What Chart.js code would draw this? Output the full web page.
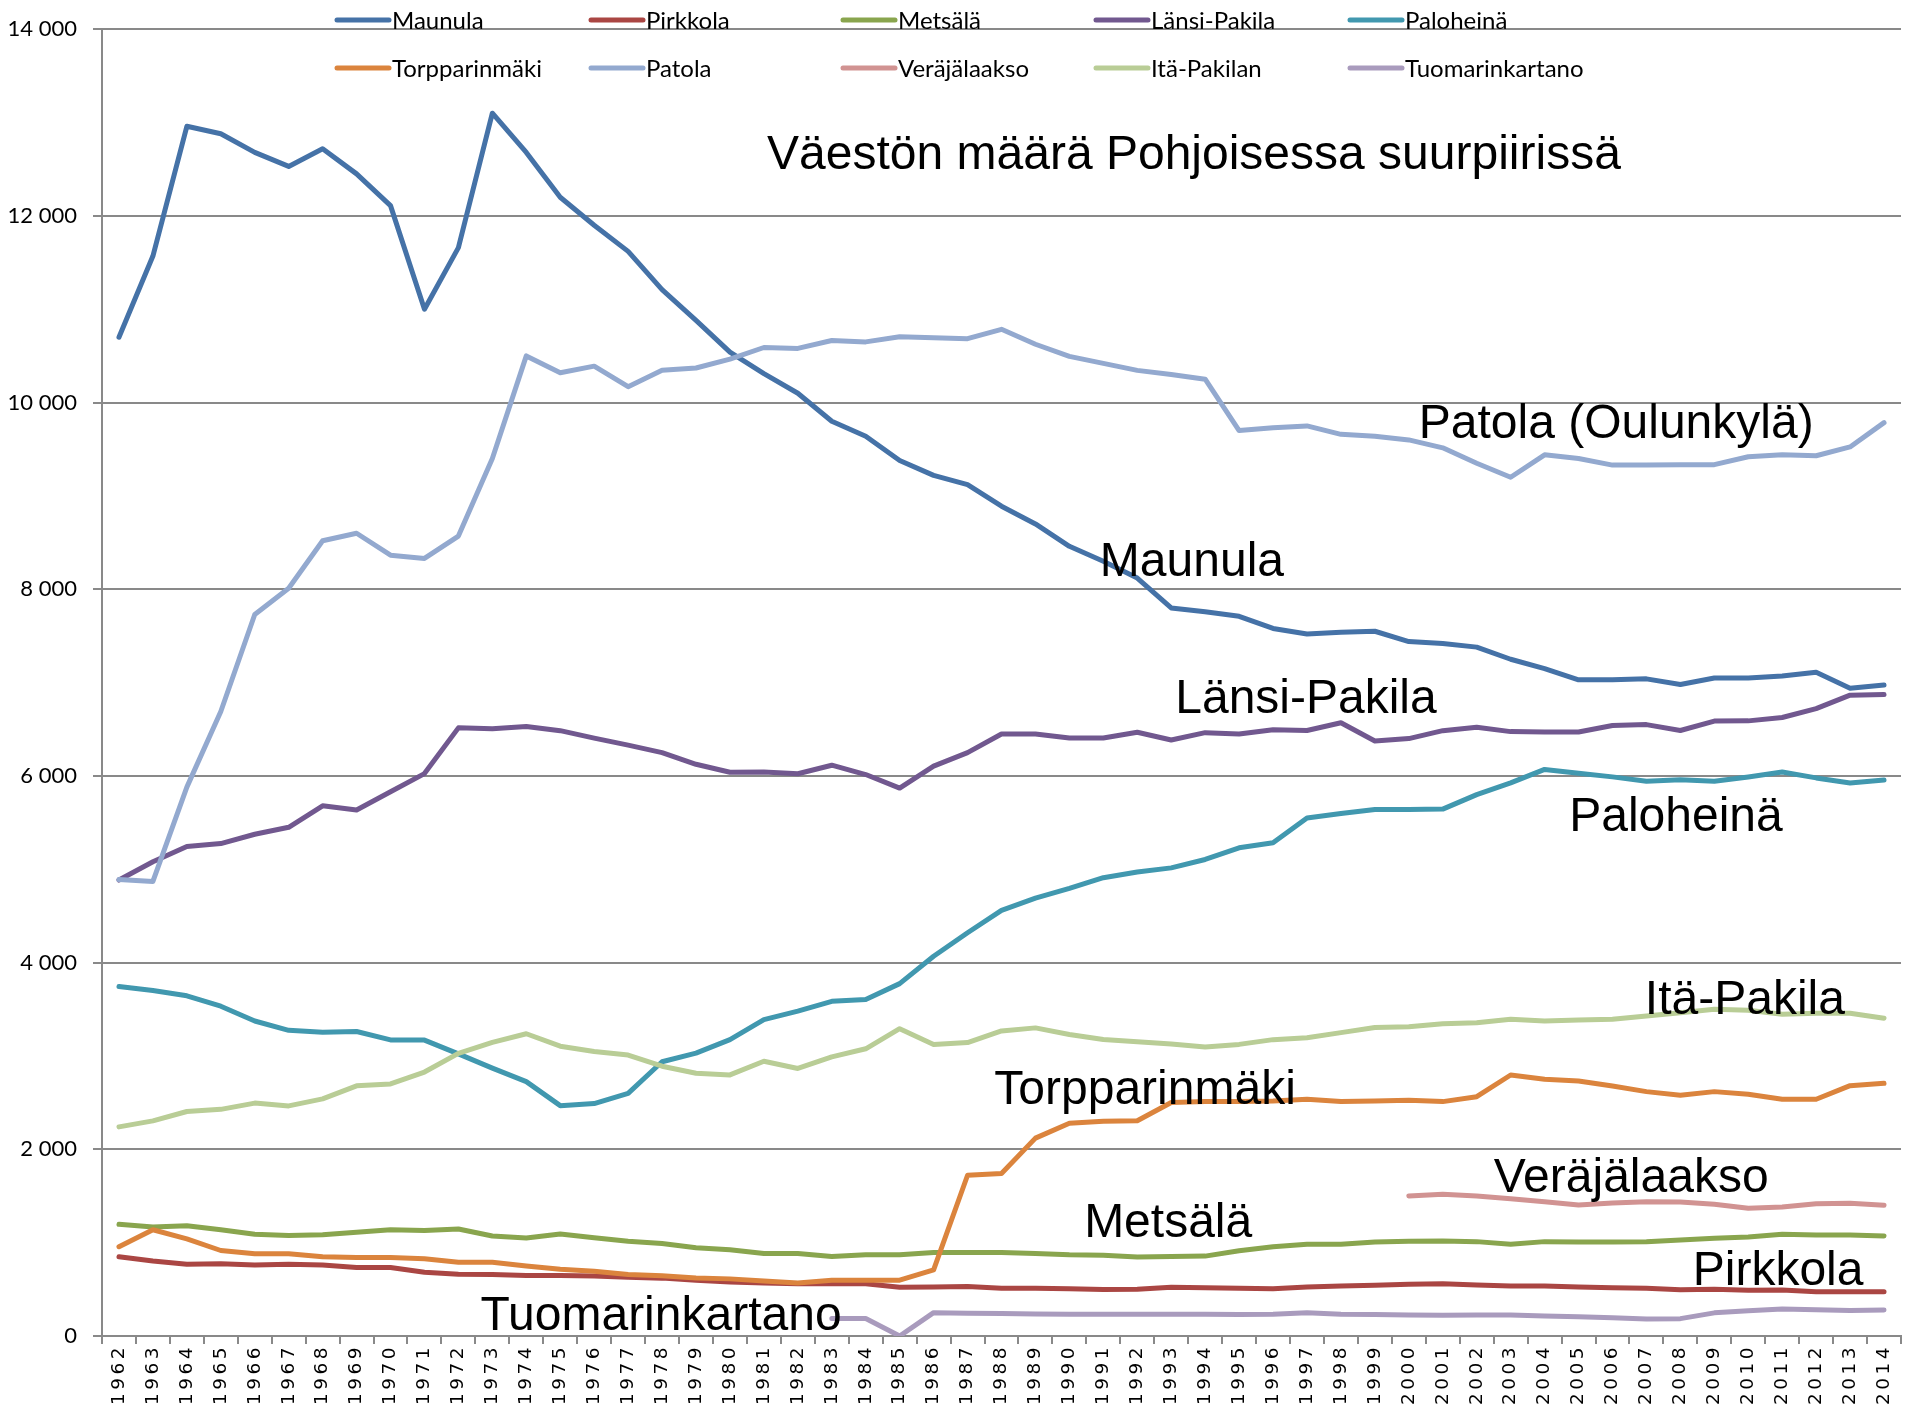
<!DOCTYPE html>
<html>
<head>
<meta charset="utf-8">
<script src="https://cdn.jsdelivr.net/npm/chart.js@4.4.1/dist/chart.umd.min.js"></script>
<style>
  html, body { margin: 0; padding: 0; background: #ffffff; }
  #wrap { width: 1911px; height: 1411px; }
</style>
</head>
<body>
<div id="wrap"><canvas id="c" width="1911" height="1411"></canvas></div>
<script>
// ---------- DATA ----------
const years = ['1962','1963','1964','1965','1966','1967','1968','1969','1970','1971',
  '1972','1973','1974','1975','1976','1977','1978','1979','1980','1981',
  '1982','1983','1984','1985','1986','1987','1988','1989','1990','1991',
  '1992','1993','1994','1995','1996','1997','1998','1999','2000','2001',
  '2002','2003','2004','2005','2006','2007','2008','2009','2010','2011',
  '2012','2013','2014'];

const maunula = [10700,11570,12960,12880,12680,12530,12720,12450,12110,11000,
  11660,13100,12680,12200,11900,11620,11210,10880,10540,10310,
  10100,9800,9640,9380,9220,9120,8890,8700,8460,8300,
  8120,7800,7760,7710,7580,7520,7540,7550,7440,7420,
  7380,7250,7150,7030,7030,7040,6980,7050,7050,7070,
  7110,6940,6975];

const pirkkola = [849,804,769,773,760,769,760,733,733,684,
  662,658,649,649,644,630,620,598,579,569,
  560,560,560,522,526,531,512,512,507,498,
  502,522,517,512,505,525,536,543,554,561,
  546,536,536,525,518,511,496,500,489,493,
  475,475,475];

const metsala = [1196,1169,1182,1138,1089,1076,1084,1111,1138,1129,
  1147,1071,1049,1093,1053,1015,990,945,923,885,
  885,852,871,871,895,895,895,885,871,866,
  847,852,856,914,957,982,982,1007,1014,1018,
  1011,982,1011,1007,1007,1011,1029,1046,1061,1089,
  1082,1082,1071];

const lansiPakila = [4885,5080,5245,5275,5375,5450,5680,5635,5830,6025,
  6515,6505,6530,6485,6405,6330,6250,6125,6040,6043,
  6024,6115,6015,5870,6105,6250,6450,6450,6407,6407,
  6468,6385,6464,6450,6495,6487,6570,6375,6400,6485,
  6522,6475,6470,6470,6540,6550,6487,6588,6590,6626,
  6722,6865,6872];

const paloheina = [3745,3702,3645,3533,3375,3275,3255,3262,3172,3170,
  3022,2870,2725,2468,2490,2600,2938,3030,3175,3390,
  3480,3585,3605,3775,4068,4320,4560,4690,4795,4910,
  4970,5015,5105,5230,5285,5550,5598,5640,5640,5645,
  5800,5925,6070,6030,5990,5943,5960,5943,5989,6043,
  5979,5925,5957];

const torpparinmaki = [956,1138,1040,916,880,880,849,840,840,827,
  791,791,751,716,693,660,645,622,612,589,
  569,598,598,598,708,1722,1740,2120,2280,2301,
  2306,2502,2512,2512,2518,2536,2511,2518,2525,2511,
  2564,2796,2750,2732,2679,2618,2579,2618,2589,2536,
  2536,2682,2707];

const patola = [4890,4870,5880,6690,7730,8010,8520,8600,8365,8330,
  8570,9400,10500,10320,10390,10170,10345,10370,10465,10590,
  10580,10665,10650,10705,10695,10685,10785,10625,10495,10420,
  10345,10300,10250,9700,9730,9750,9660,9640,9600,9515,
  9350,9200,9440,9400,9330,9330,9335,9335,9420,9440,
  9430,9525,9785];

const verajalaakso = [null,null,null,null,null,null,null,null,null,null,
  null,null,null,null,null,null,null,null,null,null,
  null,null,null,null,null,null,null,null,null,null,
  null,null,null,null,null,null,null,null,1500,1518,
  1500,1471,1439,1404,1425,1439,1436,1411,1368,1382,
  1418,1421,1400];

const itaPakila = [2240,2305,2405,2428,2495,2465,2540,2680,2700,2828,
  3028,3145,3238,3105,3048,3010,2890,2815,2797,2943,
  2866,2990,3077,3292,3124,3144,3268,3301,3230,3177,
  3153,3129,3096,3124,3175,3196,3250,3304,3314,3346,
  3357,3393,3375,3386,3393,3429,3464,3500,3489,3446,
  3457,3457,3404];

const tuomarinkartano = [null,null,null,null,null,null,null,null,null,null,
  null,null,null,null,null,null,null,null,null,null,
  null,188,188,0,250,245,240,236,234,234,
  232,232,232,230,232,248,232,230,226,221,
  225,225,214,207,196,182,186,248,270,288,
  280,273,279];

const seriesNames = ['Maunula','Pirkkola','Metsälä','Länsi-Pakila','Paloheinä',
  'Torpparinmäki','Patola','Veräjälaakso','Itä-Pakilan','Tuomarinkartano'];
const seriesValues = [maunula, pirkkola, metsala, lansiPakila, paloheina,
  torpparinmaki, patola, verajalaakso, itaPakila, tuomarinkartano];

const yTicks = [0, 2000, 4000, 6000, 8000, 10000, 12000, 14000];

// annotation texts (positions given in data space: category index, value)
const noteTexts = ['Väestön määrä Pohjoisessa suurpiirissä','Patola (Oulunkylä)','Maunula',
  'Länsi-Pakila','Paloheinä','Itä-Pakila','Torpparinmäki','Veräjälaakso','Metsälä',
  'Pirkkola','Tuomarinkartano'];

// ---------- STYLE ----------
const colors = ['#4572A7','#AA4643','#89A54E','#71588F','#4198AF',
  '#DB843D','#93A9CF','#D19392','#B9CD96','#A99BBD'];
const notePos = [[31.67,12500],[44.11,9623],[31.61,8137],[34.97,6672],[45.87,5409],
  [47.9,3452],[30.23,2490],[44.55,1538],[30.91,1057],[48.88,543],[15.97,62]];
const gridColor = '#898989';

const datasets = seriesNames.map((name, i) => ({
  label: name,
  data: seriesValues[i],
  borderColor: colors[i],
  backgroundColor: colors[i],
  borderWidth: 5,
  pointRadius: 0,
  pointHoverRadius: 0,
  tension: 0,
  fill: false,
  spanGaps: false,
  borderCapStyle: 'round',
  borderJoinStyle: 'round',
  order: 10 - i
}));

// x tick labels are drawn after the datasets (ticks.z = 1); widen their tracking
const spacingPlugin = {
  id: 'xLabelSpacing',
  afterDatasetsDraw(chart) { chart.ctx.letterSpacing = '3.5px'; },
  afterDraw(chart) { chart.ctx.letterSpacing = '0px'; }
};

const legendPlugin = {
  id: 'customLegend',
  afterDraw(chart) {
    const ctx = chart.ctx;
    const colX = [335, 589, 841, 1094, 1348];
    const rowY = [20, 68];
    ctx.save();
    ctx.letterSpacing = '0px';
    ctx.font = '24px Lato';
    ctx.textBaseline = 'alphabetic';
    ctx.textAlign = 'left';
    chart.data.datasets.forEach((ds, i) => {
      const x = colX[i % 5];
      const y = rowY[Math.floor(i / 5)];
      ctx.strokeStyle = ds.borderColor;
      ctx.lineWidth = 5;
      ctx.lineCap = 'round';
      ctx.beginPath();
      ctx.moveTo(x + 2, y);
      ctx.lineTo(x + 54, y);
      ctx.stroke();
      ctx.fillStyle = '#000000';
      ctx.fillText(ds.label, x + 57, y + 8.5);
    });
    ctx.restore();
  }
};

const notesPlugin = {
  id: 'notes',
  afterDraw(chart) {
    const ctx = chart.ctx;
    const xs = chart.scales.x, ys = chart.scales.y;
    ctx.save();
    ctx.letterSpacing = '0px';
    ctx.font = '48px "Liberation Sans", Arial, sans-serif';
    ctx.fillStyle = '#000000';
    ctx.textAlign = 'center';
    ctx.textBaseline = 'alphabetic';
    noteTexts.forEach((t, i) => {
      const x = xs.getPixelForValue(notePos[i][0]);
      const y = ys.getPixelForValue(notePos[i][1]);
      ctx.fillText(t, x, y);
    });
    ctx.restore();
  }
};

new Chart(document.getElementById('c'), {
  type: 'line',
  data: { labels: years, datasets },
  options: {
    responsive: false,
    animation: false,
    devicePixelRatio: 1,
    layout: { padding: { top: 27, right: 10, left: 0, bottom: 0 } },
    plugins: {
      legend: { display: false },
      title: { display: false },
      tooltip: { enabled: false }
    },
    scales: {
      x: {
        type: 'category',
        offset: true,
        grid: {
          offset: true,
          drawOnChartArea: false,
          drawTicks: true,
          tickLength: 8,
          color: gridColor,
          lineWidth: 2
        },
        border: { color: gridColor, width: 2 },
        ticks: {
          z: 1,
          autoSkip: false,
          maxRotation: 90,
          minRotation: 90,
          padding: 0,
          color: '#000000',
          font: { family: '"DejaVu Sans"', size: 18.5 }
        },
        afterFit(scale) { scale.height = 75; }
      },
      y: {
        min: 0,
        max: 14000,
        afterBuildTicks(scale) { scale.ticks = yTicks.map(v => ({ value: v })); },
        grid: {
          color: gridColor,
          lineWidth: 2,
          drawTicks: true,
          tickLength: 9
        },
        border: { color: gridColor, width: 2 },
        ticks: {
          padding: 16,
          color: '#000000',
          font: { family: 'Lato', size: 22 },
          callback: (v) => String(v).replace(/\B(?=(\d{3})+(?!\d))/g, ' ')
        },
        afterFit(scale) { scale.width = 102; }
      }
    }
  },
  plugins: [spacingPlugin, legendPlugin, notesPlugin]
});
</script>
</body>
</html>
